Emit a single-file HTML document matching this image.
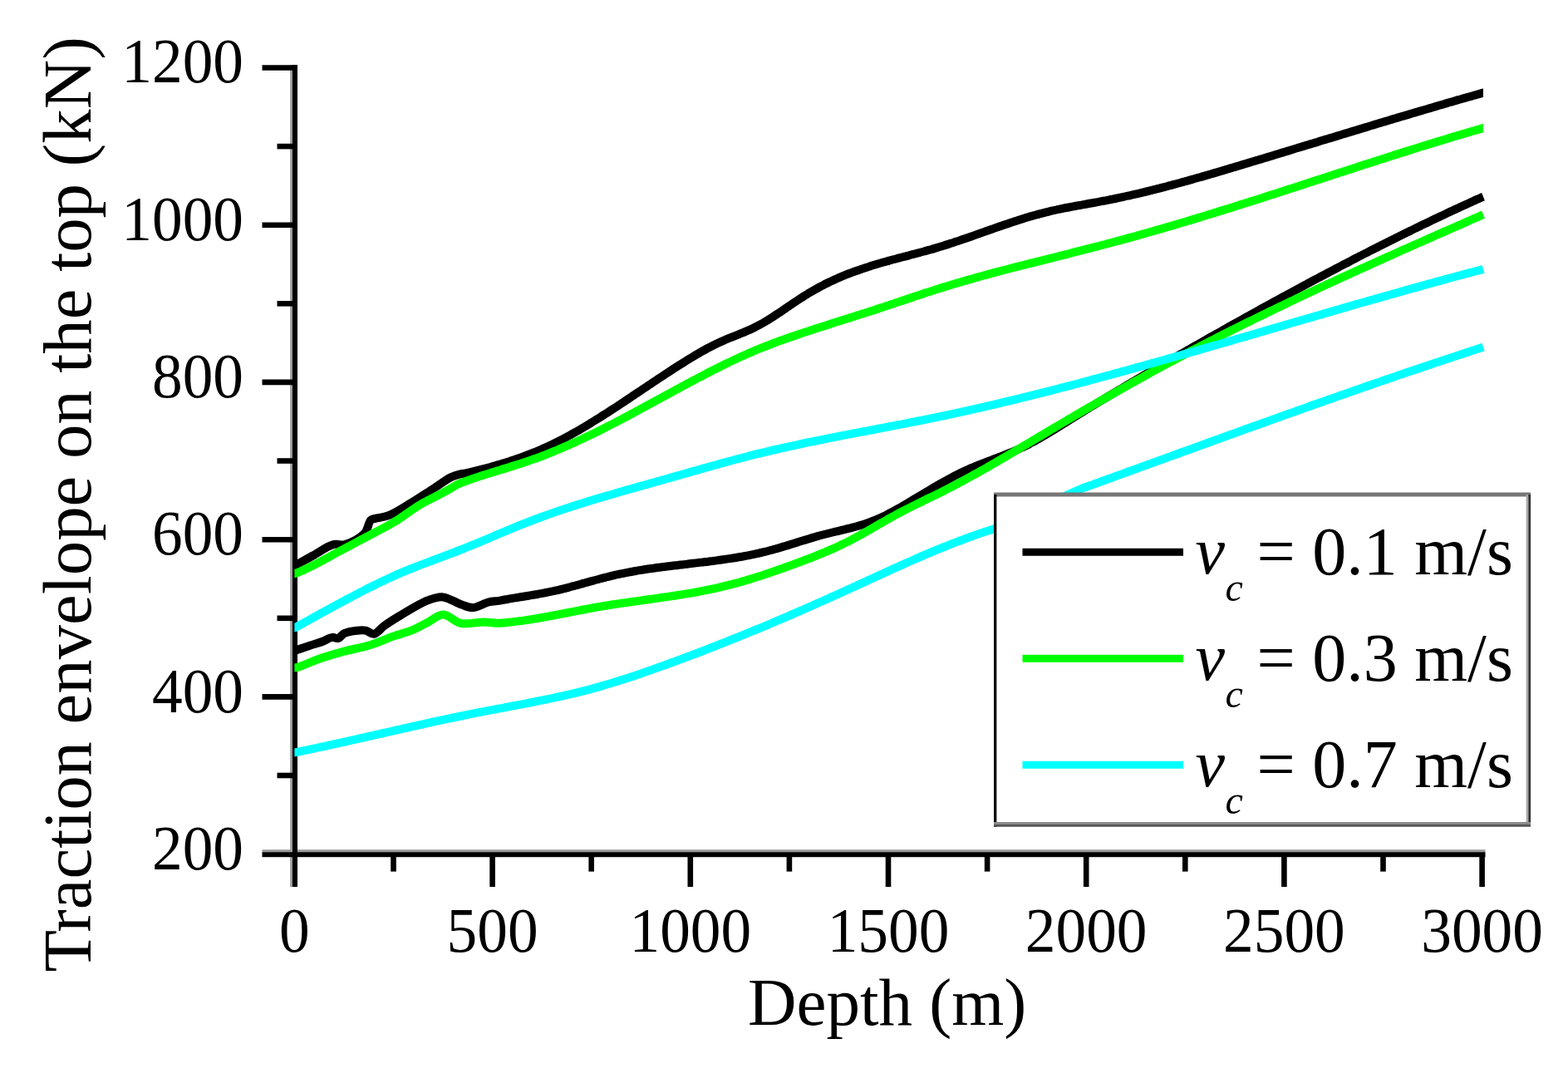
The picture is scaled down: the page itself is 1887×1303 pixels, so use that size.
<!DOCTYPE html>
<html><head><meta charset="utf-8"><title>Traction envelope on the top vs Depth</title>
<style>
html,body{margin:0;padding:0;background:#fff;}
body{width:1887px;height:1303px;overflow:hidden;}
svg{display:block;}
text{font-family:"Liberation Serif","Times New Roman",serif;fill:#000;}
</style></head><body>
<svg width="1887" height="1303" viewBox="0 0 1887 1303">
<rect width="1887" height="1303" fill="#fff"/>

<rect x="349.2" y="78" width="2.9" height="989" fill="#9a9a9a"/>
<rect x="315.5" y="1022.2" width="1472" height="3.1" fill="#9a9a9a"/>
<rect x="352" y="78" width="6" height="989" fill="#000"/>
<rect x="315.5" y="1025.2" width="1472" height="6" fill="#000"/>
<g stroke="#000" stroke-width="6.6" stroke-linecap="butt">
<line x1="333.5" y1="933.0" x2="355.0" y2="933.0"/>
<line x1="315.5" y1="838.4" x2="355.0" y2="838.4"/>
<line x1="333.5" y1="743.8" x2="355.0" y2="743.8"/>
<line x1="315.5" y1="649.2" x2="355.0" y2="649.2"/>
<line x1="333.5" y1="554.5" x2="355.0" y2="554.5"/>
<line x1="315.5" y1="459.9" x2="355.0" y2="459.9"/>
<line x1="333.5" y1="365.3" x2="355.0" y2="365.3"/>
<line x1="315.5" y1="270.7" x2="355.0" y2="270.7"/>
<line x1="333.5" y1="176.1" x2="355.0" y2="176.1"/>
<line x1="315.5" y1="81.5" x2="355.0" y2="81.5"/>
<line x1="473.5" y1="1028.0" x2="473.5" y2="1048.6"/>
<line x1="592.6" y1="1028.0" x2="592.6" y2="1067.0"/>
<line x1="711.7" y1="1028.0" x2="711.7" y2="1048.6"/>
<line x1="830.8" y1="1028.0" x2="830.8" y2="1067.0"/>
<line x1="949.9" y1="1028.0" x2="949.9" y2="1048.6"/>
<line x1="1069.0" y1="1028.0" x2="1069.0" y2="1067.0"/>
<line x1="1188.1" y1="1028.0" x2="1188.1" y2="1048.6"/>
<line x1="1307.2" y1="1028.0" x2="1307.2" y2="1067.0"/>
<line x1="1426.3" y1="1028.0" x2="1426.3" y2="1048.6"/>
<line x1="1545.4" y1="1028.0" x2="1545.4" y2="1067.0"/>
<line x1="1664.5" y1="1028.0" x2="1664.5" y2="1048.6"/>
<line x1="1783.6" y1="1028.0" x2="1783.6" y2="1067.0"/>
</g>
<path d="M354.4,680.3 C354.5,680.3 354.7,680.4 355.0,680.3 C355.7,680.2 356.7,679.6 358.2,678.8 C361.8,676.9 369.9,672.1 376.5,668.5 C384.1,664.3 393.9,656.9 401.2,655.1 C406.3,653.8 410.1,656.4 415.2,655.1 C422.3,653.2 433.6,647.4 438.8,641.7 C443.0,637.1 443.4,628.2 446.3,625.6 C448.0,624.1 449.4,624.5 451.7,623.9 C455.6,622.8 461.9,622.5 467.8,620.2 C475.8,617.1 485.8,610.4 494.7,605.1 C503.7,599.7 513.1,593.3 521.6,587.9 C529.2,583.0 536.8,577.0 543.1,574.0 C547.5,571.9 551.9,570.9 555.0,570.2 C557.0,569.7 558.3,569.8 560.0,569.5 C561.9,569.1 564.0,568.6 566.0,568.1 C568.0,567.6 570.0,567.1 572.0,566.6 C574.0,566.1 576.0,565.6 578.0,565.1 C580.0,564.6 582.0,564.1 584.0,563.6 C586.0,563.1 588.0,562.5 590.0,562.0 C592.0,561.4 594.0,560.9 596.0,560.3 C598.0,559.7 600.0,559.1 602.0,558.5 C604.0,557.9 606.0,557.3 608.0,556.7 C610.0,556.1 612.0,555.4 614.0,554.8 C616.0,554.1 618.0,553.5 620.0,552.8 C622.0,552.1 624.0,551.4 626.0,550.7 C628.0,550.0 630.0,549.3 632.0,548.5 C634.0,547.8 636.0,547.0 638.0,546.2 C640.0,545.4 642.0,544.6 644.0,543.8 C646.0,543.0 648.0,542.1 650.0,541.3 C652.0,540.4 654.0,539.5 656.0,538.6 C658.0,537.7 660.0,536.8 662.0,535.9 C664.0,534.9 666.0,534.0 668.0,533.0 C670.0,532.0 672.0,531.0 674.0,529.9 C676.0,528.9 678.0,527.9 680.0,526.8 C682.0,525.7 684.0,524.6 686.0,523.6 C688.0,522.4 690.0,521.3 692.0,520.2 C694.0,519.1 696.0,517.9 698.0,516.8 C700.0,515.6 702.0,514.4 704.0,513.2 C706.0,512.0 708.0,510.8 710.0,509.6 C712.0,508.4 714.0,507.2 716.0,505.9 C718.0,504.7 720.0,503.4 722.0,502.2 C724.0,500.9 726.0,499.6 728.0,498.4 C730.0,497.1 732.0,495.8 734.0,494.5 C736.0,493.2 738.0,491.9 740.0,490.6 C742.0,489.3 744.0,488.0 746.0,486.6 C748.0,485.3 750.0,484.0 752.0,482.7 C754.0,481.3 756.0,480.0 758.0,478.7 C760.0,477.3 762.0,476.0 764.0,474.6 C766.0,473.3 768.0,472.0 770.0,470.6 C772.0,469.3 774.0,467.9 776.0,466.6 C778.0,465.3 780.0,463.9 782.0,462.6 C784.0,461.3 786.0,459.9 788.0,458.6 C790.0,457.3 792.0,455.9 794.0,454.6 C796.0,453.3 798.0,452.0 800.0,450.6 C802.0,449.3 804.0,448.0 806.0,446.7 C808.0,445.4 810.0,444.1 812.0,442.8 C814.0,441.6 816.0,440.3 818.0,439.0 C820.0,437.8 822.0,436.5 824.0,435.2 C826.0,434.0 828.0,432.8 830.0,431.5 C832.0,430.3 834.0,429.1 836.0,427.9 C838.0,426.7 840.0,425.6 842.0,424.4 C844.0,423.3 846.0,422.1 848.0,421.0 C850.0,419.9 852.0,418.8 854.0,417.8 C856.0,416.7 858.0,415.7 860.0,414.7 C862.0,413.7 864.0,412.8 866.0,411.9 C868.0,410.9 870.0,410.1 872.0,409.2 C874.0,408.4 876.0,407.5 878.0,406.7 C880.0,405.9 882.0,405.1 884.0,404.3 C886.0,403.5 888.0,402.7 890.0,401.9 C892.0,401.1 894.0,400.3 896.0,399.5 C898.0,398.6 900.0,397.8 902.0,396.9 C904.0,396.0 906.0,395.0 908.0,394.0 C910.0,393.0 912.0,392.0 914.0,390.9 C916.0,389.8 918.0,388.7 920.0,387.5 C922.0,386.3 924.0,385.1 926.0,383.9 C928.0,382.6 930.0,381.3 932.0,380.0 C934.0,378.7 936.0,377.4 938.0,376.1 C940.0,374.7 942.0,373.4 944.0,372.0 C946.0,370.7 948.0,369.3 950.0,367.9 C952.0,366.6 954.0,365.2 956.0,363.9 C958.0,362.5 960.0,361.2 962.0,359.9 C964.0,358.6 966.0,357.3 968.0,356.0 C970.0,354.8 972.0,353.5 974.0,352.3 C976.0,351.1 978.0,349.9 980.0,348.8 C982.0,347.7 984.0,346.6 986.0,345.5 C988.0,344.4 990.0,343.4 992.0,342.3 C994.0,341.3 996.0,340.3 998.0,339.4 C1000.0,338.4 1002.0,337.5 1004.0,336.6 C1006.0,335.7 1008.0,334.8 1010.0,333.9 C1012.0,333.1 1014.0,332.2 1016.0,331.4 C1018.0,330.6 1020.0,329.8 1022.0,329.0 C1024.0,328.3 1026.0,327.5 1028.0,326.8 C1030.0,326.1 1032.0,325.4 1034.0,324.7 C1036.0,324.0 1038.0,323.3 1040.0,322.6 C1042.0,322.0 1044.0,321.3 1046.0,320.7 C1048.0,320.0 1050.0,319.4 1052.0,318.8 C1054.0,318.2 1056.0,317.6 1058.0,317.0 C1060.0,316.5 1062.0,315.9 1064.0,315.3 C1066.0,314.7 1068.0,314.2 1070.0,313.6 C1072.0,313.1 1074.0,312.5 1076.0,312.0 C1078.0,311.5 1080.0,310.9 1082.0,310.4 C1084.0,309.9 1086.0,309.4 1088.0,308.8 C1090.0,308.3 1092.0,307.8 1094.0,307.3 C1096.0,306.7 1098.0,306.2 1100.0,305.7 C1102.0,305.1 1104.0,304.6 1106.0,304.1 C1108.0,303.5 1110.0,303.0 1112.0,302.5 C1114.0,301.9 1116.0,301.4 1118.0,300.8 C1120.0,300.2 1122.0,299.7 1124.0,299.1 C1126.0,298.5 1128.0,297.9 1130.0,297.3 C1132.0,296.7 1134.0,296.1 1136.0,295.5 C1138.0,294.8 1140.0,294.2 1142.0,293.6 C1144.0,292.9 1146.0,292.3 1148.0,291.6 C1150.0,290.9 1152.0,290.3 1154.0,289.6 C1156.0,288.9 1158.0,288.2 1160.0,287.5 C1162.0,286.9 1164.0,286.2 1166.0,285.5 C1168.0,284.8 1170.0,284.1 1172.0,283.4 C1174.0,282.7 1176.0,282.0 1178.0,281.2 C1180.0,280.5 1182.0,279.8 1184.0,279.1 C1186.0,278.4 1188.0,277.7 1190.0,277.0 C1192.0,276.3 1194.0,275.6 1196.0,274.9 C1198.0,274.2 1200.0,273.5 1202.0,272.8 C1204.0,272.1 1206.0,271.4 1208.0,270.7 C1210.0,270.0 1212.0,269.4 1214.0,268.7 C1216.0,268.0 1218.0,267.3 1220.0,266.7 C1222.0,266.0 1224.0,265.4 1226.0,264.7 C1228.0,264.1 1230.0,263.5 1232.0,262.9 C1234.0,262.2 1236.0,261.6 1238.0,261.0 C1240.0,260.4 1242.0,259.9 1244.0,259.3 C1246.0,258.7 1248.0,258.2 1250.0,257.6 C1252.0,257.1 1254.0,256.6 1256.0,256.1 C1258.0,255.5 1260.0,255.1 1262.0,254.6 C1264.0,254.1 1266.0,253.6 1268.0,253.2 C1270.0,252.7 1272.0,252.3 1274.0,251.9 C1276.0,251.5 1278.0,251.1 1280.0,250.6 C1282.0,250.2 1284.0,249.9 1286.0,249.5 C1288.0,249.1 1290.0,248.7 1292.0,248.3 C1294.0,247.9 1296.0,247.6 1298.0,247.2 C1300.0,246.9 1302.0,246.5 1304.0,246.1 C1306.0,245.8 1308.0,245.4 1310.0,245.0 C1312.0,244.7 1314.0,244.3 1316.0,244.0 C1318.0,243.6 1320.0,243.2 1322.0,242.9 C1324.0,242.5 1326.0,242.1 1328.0,241.7 C1330.0,241.4 1332.0,241.0 1334.0,240.6 C1336.0,240.2 1338.0,239.8 1340.0,239.4 C1342.0,239.0 1344.0,238.5 1346.0,238.1 C1348.0,237.7 1350.0,237.3 1352.0,236.8 C1354.0,236.4 1356.0,236.0 1358.0,235.5 C1360.0,235.1 1362.0,234.6 1364.0,234.2 C1366.0,233.7 1368.0,233.2 1370.0,232.8 C1372.0,232.3 1374.0,231.8 1376.0,231.3 C1378.0,230.9 1380.0,230.4 1382.0,229.9 C1384.0,229.4 1386.0,228.9 1388.0,228.4 C1390.0,227.9 1392.0,227.4 1394.0,226.9 C1396.0,226.4 1398.0,225.8 1400.0,225.3 C1402.0,224.8 1404.0,224.3 1406.0,223.7 C1408.0,223.2 1410.0,222.7 1412.0,222.1 C1414.0,221.6 1416.0,221.1 1418.0,220.5 C1420.0,220.0 1422.0,219.4 1424.0,218.9 C1426.0,218.3 1428.0,217.8 1430.0,217.2 C1432.0,216.6 1434.0,216.1 1436.0,215.5 C1438.0,215.0 1440.0,214.4 1442.0,213.8 C1444.0,213.2 1446.0,212.7 1448.0,212.1 C1450.0,211.5 1452.0,210.9 1454.0,210.4 C1456.0,209.8 1458.0,209.2 1460.0,208.6 C1462.0,208.0 1464.0,207.4 1466.0,206.9 C1468.0,206.3 1470.0,205.7 1472.0,205.1 C1474.0,204.5 1476.0,203.9 1478.0,203.3 C1480.0,202.7 1482.0,202.1 1484.0,201.5 C1486.0,200.9 1488.0,200.3 1490.0,199.7 C1492.0,199.1 1494.0,198.5 1496.0,197.9 C1498.0,197.3 1500.0,196.7 1502.0,196.1 C1504.0,195.5 1506.0,194.9 1508.0,194.3 C1510.0,193.7 1512.0,193.1 1514.0,192.5 C1516.0,191.9 1518.0,191.3 1520.0,190.7 C1522.0,190.1 1524.0,189.5 1526.0,188.9 C1528.0,188.3 1530.0,187.7 1532.0,187.1 C1534.0,186.4 1536.0,185.8 1538.0,185.2 C1540.0,184.6 1542.0,184.0 1544.0,183.4 C1546.0,182.8 1548.0,182.2 1550.0,181.6 C1552.0,181.0 1554.0,180.4 1556.0,179.8 C1558.0,179.2 1560.0,178.6 1562.0,177.9 C1564.0,177.3 1566.0,176.7 1568.0,176.1 C1570.0,175.5 1572.0,174.9 1574.0,174.3 C1576.0,173.7 1578.0,173.1 1580.0,172.5 C1582.0,171.9 1584.0,171.3 1586.0,170.7 C1588.0,170.0 1590.0,169.4 1592.0,168.8 C1594.0,168.2 1596.0,167.6 1598.0,167.0 C1600.0,166.4 1602.0,165.8 1604.0,165.2 C1606.0,164.6 1608.0,164.0 1610.0,163.4 C1612.0,162.8 1614.0,162.1 1616.0,161.5 C1618.0,160.9 1620.0,160.3 1622.0,159.7 C1624.0,159.1 1626.0,158.5 1628.0,157.9 C1630.0,157.3 1632.0,156.7 1634.0,156.1 C1636.0,155.5 1638.0,154.9 1640.0,154.3 C1642.0,153.7 1644.0,153.1 1646.0,152.5 C1648.0,151.9 1650.0,151.3 1652.0,150.6 C1654.0,150.0 1656.0,149.4 1658.0,148.8 C1660.0,148.2 1662.0,147.6 1664.0,147.0 C1666.0,146.4 1668.0,145.8 1670.0,145.2 C1672.0,144.6 1674.0,144.0 1676.0,143.4 C1678.0,142.8 1680.0,142.2 1682.0,141.6 C1684.0,141.0 1686.0,140.4 1688.0,139.8 C1690.0,139.3 1692.0,138.7 1694.0,138.1 C1696.0,137.5 1698.0,136.9 1700.0,136.3 C1702.0,135.7 1704.0,135.1 1706.0,134.5 C1708.0,133.9 1710.0,133.3 1712.0,132.7 C1714.0,132.1 1716.0,131.5 1718.0,131.0 C1720.0,130.4 1722.0,129.8 1724.0,129.2 C1726.0,128.6 1728.0,128.0 1730.0,127.4 C1732.0,126.8 1734.0,126.3 1736.0,125.7 C1738.0,125.1 1740.0,124.5 1742.0,123.9 C1744.0,123.3 1746.0,122.8 1748.0,122.2 C1750.0,121.6 1752.0,121.0 1754.0,120.4 C1756.0,119.9 1758.0,119.3 1760.0,118.7 C1762.0,118.1 1764.0,117.6 1766.0,117.0 C1768.0,116.4 1770.0,115.8 1772.0,115.3 C1774.0,114.7 1776.0,114.1 1778.0,113.6 C1780.0,113.0 1782.8,112.2 1784.0,111.9 C1784.5,111.7 1784.8,111.6 1785.0,111.6" fill="none" stroke="#000" stroke-width="10.0" stroke-linejoin="round" stroke-linecap="butt"/>
<path d="M354.4,783.0 C354.5,783.0 354.7,783.1 355.0,783.0 C355.6,782.9 356.6,782.2 358.0,781.7 C361.1,780.5 368.4,778.2 373.5,776.5 C378.5,774.9 383.8,773.4 388.4,771.7 C392.4,770.2 396.1,767.3 399.5,766.9 C402.2,766.5 404.6,768.6 407.0,768.0 C409.6,767.3 411.2,763.6 414.3,762.1 C418.2,760.2 424.6,759.2 429.2,758.7 C433.1,758.3 436.8,758.0 440.3,758.7 C443.7,759.4 446.7,763.3 450.0,762.8 C454.1,762.2 457.9,756.2 462.6,752.8 C468.1,748.9 474.0,745.2 481.1,740.9 C490.4,735.3 504.3,726.4 514.0,722.7 C521.0,720.0 526.6,717.9 533.1,718.4 C540.2,719.0 548.4,725.1 555.0,727.3 C560.2,729.0 564.1,731.3 569.1,731.1 C574.9,730.9 582.0,725.9 587.6,724.5 C592.1,723.4 596.6,723.4 600.0,722.9 C602.4,722.5 604.0,722.1 606.0,721.7 C608.0,721.4 610.0,721.0 612.0,720.7 C614.0,720.3 616.0,720.0 618.0,719.6 C620.0,719.3 622.0,719.0 624.0,718.7 C626.0,718.3 628.0,718.0 630.0,717.7 C632.0,717.4 634.0,717.0 636.0,716.7 C638.0,716.4 640.0,716.1 642.0,715.7 C644.0,715.4 646.0,715.0 648.0,714.7 C650.0,714.3 652.0,714.0 654.0,713.6 C656.0,713.2 658.0,712.8 660.0,712.4 C662.0,712.0 664.0,711.6 666.0,711.2 C668.0,710.7 670.0,710.2 672.0,709.8 C674.0,709.3 676.0,708.8 678.0,708.3 C680.0,707.8 682.0,707.3 684.0,706.8 C686.0,706.3 688.0,705.7 690.0,705.2 C692.0,704.6 694.0,704.1 696.0,703.6 C698.0,703.0 700.0,702.5 702.0,701.9 C704.0,701.3 706.0,700.8 708.0,700.2 C710.0,699.7 712.0,699.1 714.0,698.6 C716.0,698.0 718.0,697.5 720.0,697.0 C722.0,696.4 724.0,695.9 726.0,695.4 C728.0,694.9 730.0,694.3 732.0,693.9 C734.0,693.4 736.0,692.9 738.0,692.4 C740.0,691.9 742.0,691.5 744.0,691.0 C746.0,690.6 748.0,690.2 750.0,689.8 C752.0,689.4 754.0,689.0 756.0,688.6 C758.0,688.2 760.0,687.8 762.0,687.5 C764.0,687.1 766.0,686.8 768.0,686.4 C770.0,686.1 772.0,685.8 774.0,685.5 C776.0,685.1 778.0,684.8 780.0,684.5 C782.0,684.2 784.0,683.9 786.0,683.7 C788.0,683.4 790.0,683.1 792.0,682.8 C794.0,682.6 796.0,682.3 798.0,682.1 C800.0,681.8 802.0,681.6 804.0,681.3 C806.0,681.1 808.0,680.8 810.0,680.6 C812.0,680.4 814.0,680.1 816.0,679.9 C818.0,679.7 820.0,679.4 822.0,679.2 C824.0,679.0 826.0,678.7 828.0,678.5 C830.0,678.3 832.0,678.1 834.0,677.8 C836.0,677.6 838.0,677.4 840.0,677.1 C842.0,676.9 844.0,676.7 846.0,676.4 C848.0,676.2 850.0,675.9 852.0,675.7 C854.0,675.4 856.0,675.2 858.0,674.9 C860.0,674.7 862.0,674.4 864.0,674.1 C866.0,673.9 868.0,673.6 870.0,673.3 C872.0,673.0 874.0,672.7 876.0,672.4 C878.0,672.1 880.0,671.8 882.0,671.5 C884.0,671.2 886.0,670.9 888.0,670.5 C890.0,670.2 892.0,669.8 894.0,669.5 C896.0,669.1 898.0,668.7 900.0,668.3 C902.0,667.9 904.0,667.5 906.0,667.1 C908.0,666.7 910.0,666.3 912.0,665.8 C914.0,665.4 916.0,664.9 918.0,664.4 C920.0,664.0 922.0,663.5 924.0,663.0 C926.0,662.4 928.0,661.9 930.0,661.4 C932.0,660.8 934.0,660.3 936.0,659.7 C938.0,659.1 940.0,658.5 942.0,657.9 C944.0,657.3 946.0,656.7 948.0,656.1 C950.0,655.5 952.0,654.9 954.0,654.2 C956.0,653.6 958.0,653.0 960.0,652.4 C962.0,651.7 964.0,651.1 966.0,650.5 C968.0,649.9 970.0,649.3 972.0,648.7 C974.0,648.1 976.0,647.5 978.0,646.9 C980.0,646.3 982.0,645.7 984.0,645.1 C986.0,644.6 988.0,644.0 990.0,643.5 C992.0,643.0 994.0,642.5 996.0,642.0 C998.0,641.5 1000.0,641.0 1002.0,640.5 C1004.0,640.0 1006.0,639.5 1008.0,639.1 C1010.0,638.6 1012.0,638.1 1014.0,637.6 C1016.0,637.2 1018.0,636.7 1020.0,636.2 C1022.0,635.7 1024.0,635.2 1026.0,634.6 C1028.0,634.1 1030.0,633.6 1032.0,633.0 C1034.0,632.4 1036.0,631.8 1038.0,631.2 C1040.0,630.6 1042.0,629.9 1044.0,629.2 C1046.0,628.5 1048.0,627.8 1050.0,627.0 C1052.0,626.2 1054.0,625.4 1056.0,624.5 C1058.0,623.7 1060.0,622.7 1062.0,621.8 C1064.0,620.9 1066.0,619.9 1068.0,618.9 C1070.0,617.8 1072.0,616.8 1074.0,615.7 C1076.0,614.7 1078.0,613.6 1080.0,612.4 C1082.0,611.3 1084.0,610.2 1086.0,609.0 C1088.0,607.9 1090.0,606.7 1092.0,605.5 C1094.0,604.3 1096.0,603.1 1098.0,601.9 C1100.0,600.7 1102.0,599.5 1104.0,598.3 C1106.0,597.1 1108.0,595.9 1110.0,594.7 C1112.0,593.5 1114.0,592.3 1116.0,591.2 C1118.0,590.0 1120.0,588.8 1122.0,587.6 C1124.0,586.4 1126.0,585.3 1128.0,584.1 C1130.0,582.9 1132.0,581.8 1134.0,580.7 C1136.0,579.5 1138.0,578.4 1140.0,577.3 C1142.0,576.2 1144.0,575.2 1146.0,574.1 C1148.0,573.0 1150.0,572.0 1152.0,571.0 C1154.0,570.0 1156.0,569.0 1158.0,568.0 C1160.0,567.1 1162.0,566.2 1164.0,565.3 C1166.0,564.4 1168.0,563.5 1170.0,562.7 C1172.0,561.8 1174.0,561.0 1176.0,560.2 C1178.0,559.4 1180.0,558.6 1182.0,557.8 C1184.0,557.0 1186.0,556.2 1188.0,555.5 C1190.0,554.7 1192.0,553.9 1194.0,553.2 C1196.0,552.4 1198.0,551.7 1200.0,550.9 C1202.0,550.1 1204.0,549.4 1206.0,548.6 C1208.0,547.8 1210.0,547.0 1212.0,546.2 C1214.0,545.4 1216.0,544.6 1218.0,543.8 C1220.0,542.9 1222.0,542.1 1224.0,541.2 C1226.0,540.3 1228.0,539.4 1230.0,538.4 C1232.0,537.5 1234.0,536.5 1236.0,535.5 C1238.0,534.5 1240.0,533.4 1242.0,532.4 C1244.0,531.3 1246.0,530.2 1248.0,529.1 C1250.0,528.0 1252.0,526.8 1254.0,525.7 C1256.0,524.5 1258.0,523.3 1260.0,522.2 C1262.0,521.0 1264.0,519.8 1266.0,518.5 C1268.0,517.3 1270.0,516.1 1272.0,514.9 C1274.0,513.6 1276.0,512.4 1278.0,511.1 C1280.0,509.9 1282.0,508.6 1284.0,507.4 C1286.0,506.1 1288.0,504.9 1290.0,503.6 C1292.0,502.4 1294.0,501.1 1296.0,499.9 C1298.0,498.6 1300.0,497.4 1302.0,496.2 C1304.0,494.9 1306.0,493.7 1308.0,492.5 C1310.0,491.2 1312.0,490.0 1314.0,488.8 C1316.0,487.6 1318.0,486.4 1320.0,485.1 C1322.0,483.9 1324.0,482.7 1326.0,481.5 C1328.0,480.3 1330.0,479.1 1332.0,477.9 C1334.0,476.7 1336.0,475.5 1338.0,474.3 C1340.0,473.1 1342.0,471.9 1344.0,470.7 C1346.0,469.5 1348.0,468.4 1350.0,467.2 C1352.0,466.0 1354.0,464.8 1356.0,463.6 C1358.0,462.5 1360.0,461.3 1362.0,460.1 C1364.0,458.9 1366.0,457.8 1368.0,456.6 C1370.0,455.4 1372.0,454.3 1374.0,453.1 C1376.0,451.9 1378.0,450.8 1380.0,449.6 C1382.0,448.4 1384.0,447.3 1386.0,446.1 C1388.0,445.0 1390.0,443.8 1392.0,442.7 C1394.0,441.5 1396.0,440.4 1398.0,439.2 C1400.0,438.1 1402.0,436.9 1404.0,435.8 C1406.0,434.6 1408.0,433.5 1410.0,432.3 C1412.0,431.2 1414.0,430.0 1416.0,428.9 C1418.0,427.7 1420.0,426.6 1422.0,425.5 C1424.0,424.3 1426.0,423.2 1428.0,422.0 C1430.0,420.9 1432.0,419.8 1434.0,418.6 C1436.0,417.5 1438.0,416.3 1440.0,415.2 C1442.0,414.1 1444.0,412.9 1446.0,411.8 C1448.0,410.7 1450.0,409.5 1452.0,408.4 C1454.0,407.3 1456.0,406.1 1458.0,405.0 C1460.0,403.9 1462.0,402.8 1464.0,401.6 C1466.0,400.5 1468.0,399.4 1470.0,398.3 C1472.0,397.1 1474.0,396.0 1476.0,394.9 C1478.0,393.8 1480.0,392.6 1482.0,391.5 C1484.0,390.4 1486.0,389.3 1488.0,388.2 C1490.0,387.0 1492.0,385.9 1494.0,384.8 C1496.0,383.7 1498.0,382.6 1500.0,381.5 C1502.0,380.4 1504.0,379.3 1506.0,378.1 C1508.0,377.0 1510.0,375.9 1512.0,374.8 C1514.0,373.7 1516.0,372.6 1518.0,371.5 C1520.0,370.4 1522.0,369.3 1524.0,368.2 C1526.0,367.1 1528.0,366.0 1530.0,364.9 C1532.0,363.8 1534.0,362.7 1536.0,361.6 C1538.0,360.5 1540.0,359.4 1542.0,358.3 C1544.0,357.3 1546.0,356.2 1548.0,355.1 C1550.0,354.0 1552.0,352.9 1554.0,351.8 C1556.0,350.7 1558.0,349.7 1560.0,348.6 C1562.0,347.5 1564.0,346.4 1566.0,345.3 C1568.0,344.3 1570.0,343.2 1572.0,342.1 C1574.0,341.1 1576.0,340.0 1578.0,338.9 C1580.0,337.8 1582.0,336.8 1584.0,335.7 C1586.0,334.6 1588.0,333.6 1590.0,332.5 C1592.0,331.5 1594.0,330.4 1596.0,329.3 C1598.0,328.3 1600.0,327.2 1602.0,326.2 C1604.0,325.1 1606.0,324.1 1608.0,323.0 C1610.0,322.0 1612.0,320.9 1614.0,319.9 C1616.0,318.8 1618.0,317.8 1620.0,316.8 C1622.0,315.7 1624.0,314.7 1626.0,313.6 C1628.0,312.6 1630.0,311.6 1632.0,310.5 C1634.0,309.5 1636.0,308.5 1638.0,307.4 C1640.0,306.4 1642.0,305.4 1644.0,304.4 C1646.0,303.4 1648.0,302.3 1650.0,301.3 C1652.0,300.3 1654.0,299.3 1656.0,298.3 C1658.0,297.3 1660.0,296.2 1662.0,295.2 C1664.0,294.2 1666.0,293.2 1668.0,292.2 C1670.0,291.2 1672.0,290.2 1674.0,289.2 C1676.0,288.2 1678.0,287.2 1680.0,286.2 C1682.0,285.2 1684.0,284.2 1686.0,283.3 C1688.0,282.3 1690.0,281.3 1692.0,280.3 C1694.0,279.3 1696.0,278.3 1698.0,277.4 C1700.0,276.4 1702.0,275.4 1704.0,274.4 C1706.0,273.5 1708.0,272.5 1710.0,271.5 C1712.0,270.5 1714.0,269.6 1716.0,268.6 C1718.0,267.7 1720.0,266.7 1722.0,265.7 C1724.0,264.8 1726.0,263.8 1728.0,262.9 C1730.0,261.9 1732.0,261.0 1734.0,260.0 C1736.0,259.1 1738.0,258.2 1740.0,257.2 C1742.0,256.3 1744.0,255.3 1746.0,254.4 C1748.0,253.5 1750.0,252.5 1752.0,251.6 C1754.0,250.7 1756.0,249.8 1758.0,248.8 C1760.0,247.9 1762.0,247.0 1764.0,246.1 C1766.0,245.2 1768.0,244.3 1770.0,243.4 C1772.0,242.5 1774.0,241.5 1776.0,240.6 C1778.0,239.7 1780.3,238.7 1782.0,237.9 C1783.2,237.4 1784.5,236.8 1785.0,236.6" fill="none" stroke="#000" stroke-width="10.0" stroke-linejoin="round" stroke-linecap="butt"/>
<path d="M354.4,689.9 C354.5,689.9 354.7,690.0 355.0,689.9 C357.1,689.5 368.7,684.2 376.5,680.4 C386.2,675.7 398.0,668.9 408.7,663.2 C419.5,657.5 430.2,651.7 441.0,646.0 C451.7,640.3 462.6,635.1 473.2,628.8 C484.1,622.3 495.7,613.1 505.5,607.3 C513.3,602.7 520.7,599.4 527.0,596.0 C532.0,593.3 536.0,591.2 540.3,588.8 C544.3,586.6 548.3,583.9 551.9,582.2 C554.8,580.8 557.5,580.0 560.0,579.1 C562.1,578.3 564.0,577.7 566.0,577.0 C568.0,576.3 570.0,575.6 572.0,574.9 C574.0,574.3 576.0,573.6 578.0,572.9 C580.0,572.3 582.0,571.7 584.0,571.0 C586.0,570.4 588.0,569.8 590.0,569.1 C592.0,568.5 594.0,567.9 596.0,567.3 C598.0,566.7 600.0,566.1 602.0,565.5 C604.0,564.8 606.0,564.2 608.0,563.6 C610.0,563.0 612.0,562.4 614.0,561.8 C616.0,561.1 618.0,560.5 620.0,559.9 C622.0,559.2 624.0,558.6 626.0,558.0 C628.0,557.3 630.0,556.6 632.0,556.0 C634.0,555.3 636.0,554.6 638.0,553.9 C640.0,553.2 642.0,552.5 644.0,551.8 C646.0,551.1 648.0,550.3 650.0,549.6 C652.0,548.8 654.0,548.1 656.0,547.3 C658.0,546.5 660.0,545.7 662.0,544.9 C664.0,544.1 666.0,543.3 668.0,542.5 C670.0,541.7 672.0,540.8 674.0,540.0 C676.0,539.1 678.0,538.3 680.0,537.4 C682.0,536.5 684.0,535.6 686.0,534.8 C688.0,533.9 690.0,533.0 692.0,532.1 C694.0,531.1 696.0,530.2 698.0,529.3 C700.0,528.4 702.0,527.4 704.0,526.5 C706.0,525.5 708.0,524.6 710.0,523.6 C712.0,522.6 714.0,521.6 716.0,520.7 C718.0,519.7 720.0,518.7 722.0,517.7 C724.0,516.7 726.0,515.7 728.0,514.7 C730.0,513.7 732.0,512.7 734.0,511.6 C736.0,510.6 738.0,509.6 740.0,508.6 C742.0,507.5 744.0,506.5 746.0,505.4 C748.0,504.4 750.0,503.3 752.0,502.3 C754.0,501.2 756.0,500.2 758.0,499.1 C760.0,498.0 762.0,497.0 764.0,495.9 C766.0,494.8 768.0,493.8 770.0,492.7 C772.0,491.6 774.0,490.5 776.0,489.4 C778.0,488.4 780.0,487.3 782.0,486.2 C784.0,485.1 786.0,484.0 788.0,482.9 C790.0,481.8 792.0,480.7 794.0,479.7 C796.0,478.6 798.0,477.5 800.0,476.4 C802.0,475.3 804.0,474.2 806.0,473.1 C808.0,472.0 810.0,470.9 812.0,469.8 C814.0,468.8 816.0,467.7 818.0,466.6 C820.0,465.5 822.0,464.4 824.0,463.4 C826.0,462.3 828.0,461.2 830.0,460.1 C832.0,459.1 834.0,458.0 836.0,456.9 C838.0,455.9 840.0,454.8 842.0,453.8 C844.0,452.7 846.0,451.7 848.0,450.6 C850.0,449.6 852.0,448.6 854.0,447.5 C856.0,446.5 858.0,445.5 860.0,444.5 C862.0,443.5 864.0,442.5 866.0,441.5 C868.0,440.5 870.0,439.5 872.0,438.5 C874.0,437.5 876.0,436.6 878.0,435.6 C880.0,434.6 882.0,433.7 884.0,432.8 C886.0,431.8 888.0,430.9 890.0,430.0 C892.0,429.1 894.0,428.1 896.0,427.3 C898.0,426.4 900.0,425.5 902.0,424.6 C904.0,423.7 906.0,422.9 908.0,422.0 C910.0,421.2 912.0,420.4 914.0,419.5 C916.0,418.7 918.0,417.9 920.0,417.1 C922.0,416.3 924.0,415.6 926.0,414.8 C928.0,414.0 930.0,413.3 932.0,412.5 C934.0,411.8 936.0,411.0 938.0,410.3 C940.0,409.6 942.0,408.9 944.0,408.2 C946.0,407.4 948.0,406.7 950.0,406.0 C952.0,405.3 954.0,404.7 956.0,404.0 C958.0,403.3 960.0,402.6 962.0,401.9 C964.0,401.3 966.0,400.6 968.0,399.9 C970.0,399.3 972.0,398.6 974.0,398.0 C976.0,397.3 978.0,396.7 980.0,396.0 C982.0,395.4 984.0,394.7 986.0,394.1 C988.0,393.4 990.0,392.8 992.0,392.2 C994.0,391.5 996.0,390.9 998.0,390.2 C1000.0,389.6 1002.0,389.0 1004.0,388.3 C1006.0,387.7 1008.0,387.1 1010.0,386.4 C1012.0,385.8 1014.0,385.2 1016.0,384.5 C1018.0,383.9 1020.0,383.3 1022.0,382.6 C1024.0,382.0 1026.0,381.4 1028.0,380.7 C1030.0,380.1 1032.0,379.5 1034.0,378.8 C1036.0,378.2 1038.0,377.6 1040.0,376.9 C1042.0,376.3 1044.0,375.6 1046.0,375.0 C1048.0,374.4 1050.0,373.7 1052.0,373.1 C1054.0,372.4 1056.0,371.7 1058.0,371.1 C1060.0,370.4 1062.0,369.8 1064.0,369.1 C1066.0,368.4 1068.0,367.8 1070.0,367.1 C1072.0,366.4 1074.0,365.8 1076.0,365.1 C1078.0,364.4 1080.0,363.8 1082.0,363.1 C1084.0,362.4 1086.0,361.7 1088.0,361.1 C1090.0,360.4 1092.0,359.7 1094.0,359.1 C1096.0,358.4 1098.0,357.7 1100.0,357.0 C1102.0,356.4 1104.0,355.7 1106.0,355.1 C1108.0,354.4 1110.0,353.7 1112.0,353.1 C1114.0,352.4 1116.0,351.8 1118.0,351.1 C1120.0,350.5 1122.0,349.8 1124.0,349.2 C1126.0,348.5 1128.0,347.9 1130.0,347.3 C1132.0,346.6 1134.0,346.0 1136.0,345.4 C1138.0,344.8 1140.0,344.2 1142.0,343.6 C1144.0,342.9 1146.0,342.3 1148.0,341.7 C1150.0,341.1 1152.0,340.6 1154.0,340.0 C1156.0,339.4 1158.0,338.8 1160.0,338.2 C1162.0,337.6 1164.0,337.1 1166.0,336.5 C1168.0,335.9 1170.0,335.3 1172.0,334.8 C1174.0,334.2 1176.0,333.7 1178.0,333.1 C1180.0,332.6 1182.0,332.0 1184.0,331.5 C1186.0,330.9 1188.0,330.4 1190.0,329.8 C1192.0,329.3 1194.0,328.7 1196.0,328.2 C1198.0,327.7 1200.0,327.1 1202.0,326.6 C1204.0,326.1 1206.0,325.5 1208.0,325.0 C1210.0,324.5 1212.0,324.0 1214.0,323.5 C1216.0,322.9 1218.0,322.4 1220.0,321.9 C1222.0,321.4 1224.0,320.9 1226.0,320.4 C1228.0,319.8 1230.0,319.3 1232.0,318.8 C1234.0,318.3 1236.0,317.8 1238.0,317.3 C1240.0,316.8 1242.0,316.3 1244.0,315.8 C1246.0,315.3 1248.0,314.8 1250.0,314.3 C1252.0,313.8 1254.0,313.3 1256.0,312.8 C1258.0,312.3 1260.0,311.8 1262.0,311.3 C1264.0,310.8 1266.0,310.3 1268.0,309.8 C1270.0,309.3 1272.0,308.8 1274.0,308.3 C1276.0,307.8 1278.0,307.3 1280.0,306.8 C1282.0,306.3 1284.0,305.8 1286.0,305.3 C1288.0,304.8 1290.0,304.2 1292.0,303.7 C1294.0,303.2 1296.0,302.7 1298.0,302.2 C1300.0,301.7 1302.0,301.2 1304.0,300.7 C1306.0,300.2 1308.0,299.7 1310.0,299.2 C1312.0,298.7 1314.0,298.1 1316.0,297.6 C1318.0,297.1 1320.0,296.6 1322.0,296.1 C1324.0,295.6 1326.0,295.0 1328.0,294.5 C1330.0,294.0 1332.0,293.4 1334.0,292.9 C1336.0,292.4 1338.0,291.9 1340.0,291.3 C1342.0,290.8 1344.0,290.2 1346.0,289.7 C1348.0,289.2 1350.0,288.6 1352.0,288.1 C1354.0,287.5 1356.0,287.0 1358.0,286.4 C1360.0,285.9 1362.0,285.3 1364.0,284.8 C1366.0,284.2 1368.0,283.7 1370.0,283.1 C1372.0,282.5 1374.0,282.0 1376.0,281.4 C1378.0,280.9 1380.0,280.3 1382.0,279.7 C1384.0,279.2 1386.0,278.6 1388.0,278.0 C1390.0,277.4 1392.0,276.9 1394.0,276.3 C1396.0,275.7 1398.0,275.1 1400.0,274.6 C1402.0,274.0 1404.0,273.4 1406.0,272.8 C1408.0,272.2 1410.0,271.6 1412.0,271.1 C1414.0,270.5 1416.0,269.9 1418.0,269.3 C1420.0,268.7 1422.0,268.1 1424.0,267.5 C1426.0,266.9 1428.0,266.3 1430.0,265.7 C1432.0,265.1 1434.0,264.5 1436.0,263.9 C1438.0,263.3 1440.0,262.7 1442.0,262.1 C1444.0,261.5 1446.0,260.9 1448.0,260.3 C1450.0,259.7 1452.0,259.1 1454.0,258.4 C1456.0,257.8 1458.0,257.2 1460.0,256.6 C1462.0,256.0 1464.0,255.4 1466.0,254.8 C1468.0,254.1 1470.0,253.5 1472.0,252.9 C1474.0,252.3 1476.0,251.7 1478.0,251.0 C1480.0,250.4 1482.0,249.8 1484.0,249.2 C1486.0,248.5 1488.0,247.9 1490.0,247.3 C1492.0,246.6 1494.0,246.0 1496.0,245.4 C1498.0,244.7 1500.0,244.1 1502.0,243.5 C1504.0,242.8 1506.0,242.2 1508.0,241.6 C1510.0,240.9 1512.0,240.3 1514.0,239.7 C1516.0,239.0 1518.0,238.4 1520.0,237.7 C1522.0,237.1 1524.0,236.5 1526.0,235.8 C1528.0,235.2 1530.0,234.5 1532.0,233.9 C1534.0,233.3 1536.0,232.6 1538.0,232.0 C1540.0,231.3 1542.0,230.7 1544.0,230.0 C1546.0,229.4 1548.0,228.7 1550.0,228.1 C1552.0,227.4 1554.0,226.8 1556.0,226.1 C1558.0,225.5 1560.0,224.8 1562.0,224.2 C1564.0,223.5 1566.0,222.9 1568.0,222.2 C1570.0,221.6 1572.0,220.9 1574.0,220.3 C1576.0,219.6 1578.0,219.0 1580.0,218.3 C1582.0,217.7 1584.0,217.0 1586.0,216.4 C1588.0,215.7 1590.0,215.1 1592.0,214.4 C1594.0,213.8 1596.0,213.1 1598.0,212.5 C1600.0,211.8 1602.0,211.2 1604.0,210.5 C1606.0,209.9 1608.0,209.2 1610.0,208.6 C1612.0,207.9 1614.0,207.3 1616.0,206.6 C1618.0,206.0 1620.0,205.3 1622.0,204.7 C1624.0,204.0 1626.0,203.4 1628.0,202.7 C1630.0,202.1 1632.0,201.4 1634.0,200.8 C1636.0,200.1 1638.0,199.5 1640.0,198.8 C1642.0,198.2 1644.0,197.5 1646.0,196.9 C1648.0,196.3 1650.0,195.6 1652.0,195.0 C1654.0,194.3 1656.0,193.7 1658.0,193.0 C1660.0,192.4 1662.0,191.8 1664.0,191.1 C1666.0,190.5 1668.0,189.8 1670.0,189.2 C1672.0,188.6 1674.0,187.9 1676.0,187.3 C1678.0,186.6 1680.0,186.0 1682.0,185.4 C1684.0,184.7 1686.0,184.1 1688.0,183.5 C1690.0,182.8 1692.0,182.2 1694.0,181.6 C1696.0,180.9 1698.0,180.3 1700.0,179.7 C1702.0,179.1 1704.0,178.4 1706.0,177.8 C1708.0,177.2 1710.0,176.6 1712.0,175.9 C1714.0,175.3 1716.0,174.7 1718.0,174.1 C1720.0,173.5 1722.0,172.8 1724.0,172.2 C1726.0,171.6 1728.0,171.0 1730.0,170.4 C1732.0,169.8 1734.0,169.2 1736.0,168.6 C1738.0,168.0 1740.0,167.3 1742.0,166.7 C1744.0,166.1 1746.0,165.5 1748.0,164.9 C1750.0,164.3 1752.0,163.7 1754.0,163.1 C1756.0,162.5 1758.0,161.9 1760.0,161.4 C1762.0,160.8 1764.0,160.2 1766.0,159.6 C1768.0,159.0 1770.0,158.4 1772.0,157.8 C1774.0,157.2 1776.0,156.7 1778.0,156.1 C1780.0,155.5 1782.8,154.7 1784.0,154.4 C1784.5,154.2 1784.8,154.1 1785.0,154.1" fill="none" stroke="#00ff00" stroke-width="10.0" stroke-linejoin="round" stroke-linecap="butt"/>
<path d="M354.4,803.3 C354.5,803.3 354.7,803.3 355.0,803.3 C355.6,803.3 356.5,803.3 358.0,802.9 C362.5,801.7 375.5,795.7 384.7,792.5 C394.2,789.2 404.4,786.3 414.3,783.6 C424.2,780.9 434.2,779.5 444.0,776.5 C454.0,773.5 464.6,768.6 473.7,765.4 C481.4,762.7 488.2,761.3 495.0,758.6 C501.6,755.9 507.7,752.4 514.0,749.2 C520.4,746.0 526.5,739.7 533.1,739.6 C540.1,739.5 547.1,748.5 555.0,750.0 C563.4,751.6 574.1,748.3 582.2,748.4 C588.8,748.5 595.6,749.8 600.0,749.8 C602.5,749.8 604.0,749.5 606.0,749.4 C608.0,749.2 610.0,749.0 612.0,748.8 C614.0,748.6 616.0,748.4 618.0,748.1 C620.0,747.9 622.0,747.7 624.0,747.4 C626.0,747.1 628.0,746.9 630.0,746.6 C632.0,746.3 634.0,746.0 636.0,745.7 C638.0,745.4 640.0,745.1 642.0,744.7 C644.0,744.4 646.0,744.1 648.0,743.7 C650.0,743.4 652.0,743.0 654.0,742.7 C656.0,742.3 658.0,741.9 660.0,741.6 C662.0,741.2 664.0,740.8 666.0,740.5 C668.0,740.1 670.0,739.7 672.0,739.3 C674.0,738.9 676.0,738.5 678.0,738.1 C680.0,737.8 682.0,737.4 684.0,737.0 C686.0,736.6 688.0,736.2 690.0,735.8 C692.0,735.4 694.0,735.0 696.0,734.6 C698.0,734.3 700.0,733.9 702.0,733.5 C704.0,733.1 706.0,732.8 708.0,732.4 C710.0,732.0 712.0,731.6 714.0,731.3 C716.0,730.9 718.0,730.6 720.0,730.2 C722.0,729.9 724.0,729.6 726.0,729.2 C728.0,728.9 730.0,728.6 732.0,728.3 C734.0,727.9 736.0,727.6 738.0,727.3 C740.0,727.0 742.0,726.7 744.0,726.4 C746.0,726.1 748.0,725.8 750.0,725.5 C752.0,725.2 754.0,725.0 756.0,724.7 C758.0,724.4 760.0,724.1 762.0,723.8 C764.0,723.5 766.0,723.3 768.0,723.0 C770.0,722.7 772.0,722.4 774.0,722.1 C776.0,721.9 778.0,721.6 780.0,721.3 C782.0,721.0 784.0,720.7 786.0,720.5 C788.0,720.2 790.0,719.9 792.0,719.6 C794.0,719.3 796.0,719.0 798.0,718.8 C800.0,718.5 802.0,718.2 804.0,717.9 C806.0,717.6 808.0,717.3 810.0,717.0 C812.0,716.7 814.0,716.4 816.0,716.0 C818.0,715.7 820.0,715.4 822.0,715.1 C824.0,714.8 826.0,714.4 828.0,714.1 C830.0,713.8 832.0,713.4 834.0,713.1 C836.0,712.7 838.0,712.3 840.0,712.0 C842.0,711.6 844.0,711.2 846.0,710.8 C848.0,710.4 850.0,710.1 852.0,709.6 C854.0,709.2 856.0,708.8 858.0,708.4 C860.0,708.0 862.0,707.5 864.0,707.1 C866.0,706.6 868.0,706.2 870.0,705.7 C872.0,705.2 874.0,704.7 876.0,704.2 C878.0,703.7 880.0,703.2 882.0,702.7 C884.0,702.2 886.0,701.6 888.0,701.1 C890.0,700.5 892.0,700.0 894.0,699.4 C896.0,698.8 898.0,698.2 900.0,697.6 C902.0,697.0 904.0,696.4 906.0,695.8 C908.0,695.2 910.0,694.6 912.0,693.9 C914.0,693.3 916.0,692.6 918.0,692.0 C920.0,691.3 922.0,690.6 924.0,690.0 C926.0,689.3 928.0,688.6 930.0,687.9 C932.0,687.2 934.0,686.5 936.0,685.8 C938.0,685.1 940.0,684.4 942.0,683.7 C944.0,683.0 946.0,682.3 948.0,681.5 C950.0,680.8 952.0,680.1 954.0,679.4 C956.0,678.6 958.0,677.9 960.0,677.1 C962.0,676.4 964.0,675.6 966.0,674.9 C968.0,674.1 970.0,673.4 972.0,672.6 C974.0,671.9 976.0,671.1 978.0,670.3 C980.0,669.5 982.0,668.7 984.0,667.9 C986.0,667.1 988.0,666.3 990.0,665.5 C992.0,664.7 994.0,663.8 996.0,663.0 C998.0,662.1 1000.0,661.3 1002.0,660.4 C1004.0,659.5 1006.0,658.6 1008.0,657.7 C1010.0,656.7 1012.0,655.8 1014.0,654.8 C1016.0,653.9 1018.0,652.9 1020.0,651.9 C1022.0,650.9 1024.0,649.8 1026.0,648.8 C1028.0,647.7 1030.0,646.6 1032.0,645.5 C1034.0,644.5 1036.0,643.3 1038.0,642.2 C1040.0,641.1 1042.0,640.0 1044.0,638.8 C1046.0,637.7 1048.0,636.5 1050.0,635.4 C1052.0,634.2 1054.0,633.1 1056.0,631.9 C1058.0,630.8 1060.0,629.6 1062.0,628.5 C1064.0,627.3 1066.0,626.2 1068.0,625.0 C1070.0,623.9 1072.0,622.8 1074.0,621.7 C1076.0,620.5 1078.0,619.4 1080.0,618.4 C1082.0,617.3 1084.0,616.2 1086.0,615.2 C1088.0,614.1 1090.0,613.1 1092.0,612.1 C1094.0,611.1 1096.0,610.1 1098.0,609.1 C1100.0,608.1 1102.0,607.1 1104.0,606.1 C1106.0,605.1 1108.0,604.2 1110.0,603.2 C1112.0,602.2 1114.0,601.3 1116.0,600.3 C1118.0,599.3 1120.0,598.4 1122.0,597.4 C1124.0,596.4 1126.0,595.4 1128.0,594.5 C1130.0,593.5 1132.0,592.5 1134.0,591.5 C1136.0,590.5 1138.0,589.4 1140.0,588.4 C1142.0,587.4 1144.0,586.4 1146.0,585.3 C1148.0,584.3 1150.0,583.2 1152.0,582.2 C1154.0,581.1 1156.0,580.0 1158.0,579.0 C1160.0,577.9 1162.0,576.8 1164.0,575.7 C1166.0,574.6 1168.0,573.5 1170.0,572.4 C1172.0,571.3 1174.0,570.2 1176.0,569.1 C1178.0,568.0 1180.0,566.8 1182.0,565.7 C1184.0,564.6 1186.0,563.4 1188.0,562.3 C1190.0,561.1 1192.0,560.0 1194.0,558.8 C1196.0,557.7 1198.0,556.5 1200.0,555.4 C1202.0,554.2 1204.0,553.1 1206.0,551.9 C1208.0,550.7 1210.0,549.5 1212.0,548.4 C1214.0,547.2 1216.0,546.0 1218.0,544.8 C1220.0,543.7 1222.0,542.5 1224.0,541.3 C1226.0,540.1 1228.0,538.9 1230.0,537.7 C1232.0,536.5 1234.0,535.4 1236.0,534.2 C1238.0,533.0 1240.0,531.8 1242.0,530.6 C1244.0,529.4 1246.0,528.2 1248.0,527.0 C1250.0,525.8 1252.0,524.6 1254.0,523.5 C1256.0,522.3 1258.0,521.1 1260.0,519.9 C1262.0,518.7 1264.0,517.5 1266.0,516.3 C1268.0,515.1 1270.0,514.0 1272.0,512.8 C1274.0,511.6 1276.0,510.4 1278.0,509.2 C1280.0,508.1 1282.0,506.9 1284.0,505.7 C1286.0,504.5 1288.0,503.4 1290.0,502.2 C1292.0,501.0 1294.0,499.8 1296.0,498.7 C1298.0,497.5 1300.0,496.3 1302.0,495.2 C1304.0,494.0 1306.0,492.9 1308.0,491.7 C1310.0,490.5 1312.0,489.4 1314.0,488.2 C1316.0,487.1 1318.0,485.9 1320.0,484.8 C1322.0,483.6 1324.0,482.5 1326.0,481.3 C1328.0,480.2 1330.0,479.0 1332.0,477.9 C1334.0,476.7 1336.0,475.6 1338.0,474.5 C1340.0,473.3 1342.0,472.2 1344.0,471.1 C1346.0,469.9 1348.0,468.8 1350.0,467.7 C1352.0,466.5 1354.0,465.4 1356.0,464.3 C1358.0,463.2 1360.0,462.1 1362.0,460.9 C1364.0,459.8 1366.0,458.7 1368.0,457.6 C1370.0,456.5 1372.0,455.4 1374.0,454.3 C1376.0,453.2 1378.0,452.1 1380.0,451.0 C1382.0,449.9 1384.0,448.8 1386.0,447.7 C1388.0,446.6 1390.0,445.5 1392.0,444.4 C1394.0,443.3 1396.0,442.2 1398.0,441.2 C1400.0,440.1 1402.0,439.0 1404.0,437.9 C1406.0,436.9 1408.0,435.8 1410.0,434.7 C1412.0,433.7 1414.0,432.6 1416.0,431.5 C1418.0,430.5 1420.0,429.4 1422.0,428.3 C1424.0,427.3 1426.0,426.2 1428.0,425.2 C1430.0,424.1 1432.0,423.1 1434.0,422.0 C1436.0,421.0 1438.0,420.0 1440.0,418.9 C1442.0,417.9 1444.0,416.8 1446.0,415.8 C1448.0,414.8 1450.0,413.7 1452.0,412.7 C1454.0,411.7 1456.0,410.7 1458.0,409.6 C1460.0,408.6 1462.0,407.6 1464.0,406.6 C1466.0,405.6 1468.0,404.5 1470.0,403.5 C1472.0,402.5 1474.0,401.5 1476.0,400.5 C1478.0,399.5 1480.0,398.5 1482.0,397.5 C1484.0,396.5 1486.0,395.5 1488.0,394.5 C1490.0,393.5 1492.0,392.5 1494.0,391.5 C1496.0,390.5 1498.0,389.5 1500.0,388.5 C1502.0,387.5 1504.0,386.5 1506.0,385.6 C1508.0,384.6 1510.0,383.6 1512.0,382.6 C1514.0,381.6 1516.0,380.7 1518.0,379.7 C1520.0,378.7 1522.0,377.7 1524.0,376.8 C1526.0,375.8 1528.0,374.8 1530.0,373.9 C1532.0,372.9 1534.0,371.9 1536.0,371.0 C1538.0,370.0 1540.0,369.0 1542.0,368.1 C1544.0,367.1 1546.0,366.2 1548.0,365.2 C1550.0,364.3 1552.0,363.3 1554.0,362.3 C1556.0,361.4 1558.0,360.4 1560.0,359.5 C1562.0,358.6 1564.0,357.6 1566.0,356.7 C1568.0,355.7 1570.0,354.8 1572.0,353.8 C1574.0,352.9 1576.0,352.0 1578.0,351.0 C1580.0,350.1 1582.0,349.2 1584.0,348.2 C1586.0,347.3 1588.0,346.4 1590.0,345.4 C1592.0,344.5 1594.0,343.6 1596.0,342.6 C1598.0,341.7 1600.0,340.8 1602.0,339.9 C1604.0,338.9 1606.0,338.0 1608.0,337.1 C1610.0,336.2 1612.0,335.3 1614.0,334.3 C1616.0,333.4 1618.0,332.5 1620.0,331.6 C1622.0,330.7 1624.0,329.8 1626.0,328.8 C1628.0,327.9 1630.0,327.0 1632.0,326.1 C1634.0,325.2 1636.0,324.3 1638.0,323.4 C1640.0,322.5 1642.0,321.6 1644.0,320.7 C1646.0,319.8 1648.0,318.9 1650.0,318.0 C1652.0,317.1 1654.0,316.2 1656.0,315.3 C1658.0,314.4 1660.0,313.5 1662.0,312.6 C1664.0,311.7 1666.0,310.8 1668.0,309.9 C1670.0,309.0 1672.0,308.1 1674.0,307.2 C1676.0,306.3 1678.0,305.4 1680.0,304.5 C1682.0,303.6 1684.0,302.7 1686.0,301.8 C1688.0,300.9 1690.0,300.0 1692.0,299.2 C1694.0,298.3 1696.0,297.4 1698.0,296.5 C1700.0,295.6 1702.0,294.7 1704.0,293.8 C1706.0,292.9 1708.0,292.1 1710.0,291.2 C1712.0,290.3 1714.0,289.4 1716.0,288.5 C1718.0,287.6 1720.0,286.8 1722.0,285.9 C1724.0,285.0 1726.0,284.1 1728.0,283.2 C1730.0,282.4 1732.0,281.5 1734.0,280.6 C1736.0,279.7 1738.0,278.8 1740.0,278.0 C1742.0,277.1 1744.0,276.2 1746.0,275.3 C1748.0,274.4 1750.0,273.6 1752.0,272.7 C1754.0,271.8 1756.0,270.9 1758.0,270.1 C1760.0,269.2 1762.0,268.3 1764.0,267.4 C1766.0,266.5 1768.0,265.7 1770.0,264.8 C1772.0,263.9 1774.0,263.0 1776.0,262.2 C1778.0,261.3 1780.3,260.3 1782.0,259.5 C1783.2,259.0 1784.5,258.4 1785.0,258.2" fill="none" stroke="#00ff00" stroke-width="10.0" stroke-linejoin="round" stroke-linecap="butt"/>
<path d="M354.4,755.1 C354.5,755.1 354.7,755.2 355.0,755.1 C356.0,754.8 359.0,752.9 361.0,751.8 C363.0,750.7 365.0,749.7 367.0,748.6 C369.0,747.5 371.0,746.4 373.0,745.3 C375.0,744.2 377.0,743.1 379.0,742.0 C381.0,740.9 383.0,739.8 385.0,738.7 C387.0,737.6 389.0,736.5 391.0,735.4 C393.0,734.3 395.0,733.2 397.0,732.1 C399.0,731.0 401.0,730.0 403.0,728.9 C405.0,727.8 407.0,726.7 409.0,725.6 C411.0,724.5 413.0,723.5 415.0,722.4 C417.0,721.3 419.0,720.3 421.0,719.2 C423.0,718.2 425.0,717.1 427.0,716.1 C429.0,715.0 431.0,714.0 433.0,712.9 C435.0,711.9 437.0,710.9 439.0,709.9 C441.0,708.8 443.0,707.8 445.0,706.8 C447.0,705.8 449.0,704.8 451.0,703.9 C453.0,702.9 455.0,701.9 457.0,700.9 C459.0,700.0 461.0,699.0 463.0,698.1 C465.0,697.1 467.0,696.2 469.0,695.3 C471.0,694.4 473.0,693.5 475.0,692.6 C477.0,691.7 479.0,690.8 481.0,690.0 C483.0,689.1 485.0,688.3 487.0,687.4 C489.0,686.6 491.0,685.8 493.0,684.9 C495.0,684.1 497.0,683.3 499.0,682.5 C501.0,681.7 503.0,681.0 505.0,680.2 C507.0,679.4 509.0,678.6 511.0,677.9 C513.0,677.1 515.0,676.3 517.0,675.6 C519.0,674.8 521.0,674.1 523.0,673.3 C525.0,672.6 527.0,671.8 529.0,671.1 C531.0,670.3 533.0,669.6 535.0,668.8 C537.0,668.1 539.0,667.3 541.0,666.6 C543.0,665.8 545.0,665.1 547.0,664.3 C549.0,663.6 551.0,662.8 553.0,662.0 C555.0,661.2 557.0,660.4 559.0,659.7 C561.0,658.9 563.0,658.1 565.0,657.2 C567.0,656.4 569.0,655.6 571.0,654.8 C573.0,654.0 575.0,653.1 577.0,652.3 C579.0,651.5 581.0,650.6 583.0,649.8 C585.0,649.0 587.0,648.1 589.0,647.3 C591.0,646.4 593.0,645.6 595.0,644.7 C597.0,643.9 599.0,643.0 601.0,642.2 C603.0,641.3 605.0,640.5 607.0,639.7 C609.0,638.8 611.0,638.0 613.0,637.1 C615.0,636.3 617.0,635.5 619.0,634.7 C621.0,633.8 623.0,633.0 625.0,632.2 C627.0,631.4 629.0,630.6 631.0,629.8 C633.0,629.0 635.0,628.3 637.0,627.5 C639.0,626.7 641.0,625.9 643.0,625.2 C645.0,624.4 647.0,623.7 649.0,623.0 C651.0,622.2 653.0,621.5 655.0,620.8 C657.0,620.0 659.0,619.3 661.0,618.6 C663.0,617.9 665.0,617.2 667.0,616.5 C669.0,615.8 671.0,615.1 673.0,614.5 C675.0,613.8 677.0,613.1 679.0,612.4 C681.0,611.8 683.0,611.1 685.0,610.5 C687.0,609.8 689.0,609.2 691.0,608.5 C693.0,607.9 695.0,607.2 697.0,606.6 C699.0,606.0 701.0,605.3 703.0,604.7 C705.0,604.1 707.0,603.5 709.0,602.9 C711.0,602.3 713.0,601.7 715.0,601.0 C717.0,600.4 719.0,599.8 721.0,599.2 C723.0,598.6 725.0,598.1 727.0,597.5 C729.0,596.9 731.0,596.3 733.0,595.7 C735.0,595.1 737.0,594.5 739.0,594.0 C741.0,593.4 743.0,592.8 745.0,592.2 C747.0,591.7 749.0,591.1 751.0,590.5 C753.0,589.9 755.0,589.4 757.0,588.8 C759.0,588.2 761.0,587.7 763.0,587.1 C765.0,586.6 767.0,586.0 769.0,585.4 C771.0,584.9 773.0,584.3 775.0,583.8 C777.0,583.2 779.0,582.6 781.0,582.1 C783.0,581.5 785.0,580.9 787.0,580.4 C789.0,579.8 791.0,579.3 793.0,578.7 C795.0,578.1 797.0,577.6 799.0,577.0 C801.0,576.5 803.0,575.9 805.0,575.3 C807.0,574.8 809.0,574.2 811.0,573.6 C813.0,573.1 815.0,572.5 817.0,571.9 C819.0,571.3 821.0,570.8 823.0,570.2 C825.0,569.6 827.0,569.1 829.0,568.5 C831.0,567.9 833.0,567.4 835.0,566.8 C837.0,566.2 839.0,565.7 841.0,565.1 C843.0,564.5 845.0,564.0 847.0,563.4 C849.0,562.8 851.0,562.3 853.0,561.7 C855.0,561.1 857.0,560.6 859.0,560.0 C861.0,559.5 863.0,558.9 865.0,558.4 C867.0,557.8 869.0,557.3 871.0,556.7 C873.0,556.2 875.0,555.6 877.0,555.1 C879.0,554.5 881.0,554.0 883.0,553.5 C885.0,552.9 887.0,552.4 889.0,551.9 C891.0,551.3 893.0,550.8 895.0,550.3 C897.0,549.8 899.0,549.3 901.0,548.7 C903.0,548.2 905.0,547.7 907.0,547.2 C909.0,546.7 911.0,546.2 913.0,545.7 C915.0,545.2 917.0,544.8 919.0,544.3 C921.0,543.8 923.0,543.3 925.0,542.8 C927.0,542.4 929.0,541.9 931.0,541.4 C933.0,541.0 935.0,540.5 937.0,540.1 C939.0,539.6 941.0,539.2 943.0,538.7 C945.0,538.3 947.0,537.8 949.0,537.4 C951.0,536.9 953.0,536.5 955.0,536.1 C957.0,535.6 959.0,535.2 961.0,534.8 C963.0,534.3 965.0,533.9 967.0,533.5 C969.0,533.1 971.0,532.7 973.0,532.2 C975.0,531.8 977.0,531.4 979.0,531.0 C981.0,530.6 983.0,530.2 985.0,529.8 C987.0,529.4 989.0,529.0 991.0,528.6 C993.0,528.2 995.0,527.8 997.0,527.4 C999.0,527.0 1001.0,526.6 1003.0,526.2 C1005.0,525.8 1007.0,525.4 1009.0,525.0 C1011.0,524.6 1013.0,524.2 1015.0,523.8 C1017.0,523.5 1019.0,523.1 1021.0,522.7 C1023.0,522.3 1025.0,521.9 1027.0,521.5 C1029.0,521.1 1031.0,520.8 1033.0,520.4 C1035.0,520.0 1037.0,519.6 1039.0,519.2 C1041.0,518.9 1043.0,518.5 1045.0,518.1 C1047.0,517.7 1049.0,517.3 1051.0,517.0 C1053.0,516.6 1055.0,516.2 1057.0,515.8 C1059.0,515.4 1061.0,515.1 1063.0,514.7 C1065.0,514.3 1067.0,513.9 1069.0,513.5 C1071.0,513.1 1073.0,512.8 1075.0,512.4 C1077.0,512.0 1079.0,511.6 1081.0,511.2 C1083.0,510.8 1085.0,510.4 1087.0,510.1 C1089.0,509.7 1091.0,509.3 1093.0,508.9 C1095.0,508.5 1097.0,508.1 1099.0,507.7 C1101.0,507.3 1103.0,506.9 1105.0,506.5 C1107.0,506.1 1109.0,505.7 1111.0,505.3 C1113.0,504.9 1115.0,504.5 1117.0,504.1 C1119.0,503.7 1121.0,503.3 1123.0,502.9 C1125.0,502.5 1127.0,502.1 1129.0,501.6 C1131.0,501.2 1133.0,500.8 1135.0,500.4 C1137.0,500.0 1139.0,499.5 1141.0,499.1 C1143.0,498.7 1145.0,498.3 1147.0,497.8 C1149.0,497.4 1151.0,497.0 1153.0,496.5 C1155.0,496.1 1157.0,495.6 1159.0,495.2 C1161.0,494.8 1163.0,494.3 1165.0,493.9 C1167.0,493.4 1169.0,493.0 1171.0,492.5 C1173.0,492.1 1175.0,491.6 1177.0,491.2 C1179.0,490.7 1181.0,490.3 1183.0,489.8 C1185.0,489.3 1187.0,488.9 1189.0,488.4 C1191.0,487.9 1193.0,487.5 1195.0,487.0 C1197.0,486.5 1199.0,486.1 1201.0,485.6 C1203.0,485.1 1205.0,484.7 1207.0,484.2 C1209.0,483.7 1211.0,483.2 1213.0,482.7 C1215.0,482.3 1217.0,481.8 1219.0,481.3 C1221.0,480.8 1223.0,480.3 1225.0,479.8 C1227.0,479.3 1229.0,478.9 1231.0,478.4 C1233.0,477.9 1235.0,477.4 1237.0,476.9 C1239.0,476.4 1241.0,475.9 1243.0,475.4 C1245.0,474.9 1247.0,474.4 1249.0,473.9 C1251.0,473.4 1253.0,472.9 1255.0,472.4 C1257.0,471.9 1259.0,471.3 1261.0,470.8 C1263.0,470.3 1265.0,469.8 1267.0,469.3 C1269.0,468.8 1271.0,468.3 1273.0,467.8 C1275.0,467.2 1277.0,466.7 1279.0,466.2 C1281.0,465.7 1283.0,465.2 1285.0,464.6 C1287.0,464.1 1289.0,463.6 1291.0,463.1 C1293.0,462.5 1295.0,462.0 1297.0,461.5 C1299.0,461.0 1301.0,460.4 1303.0,459.9 C1305.0,459.4 1307.0,458.8 1309.0,458.3 C1311.0,457.8 1313.0,457.2 1315.0,456.7 C1317.0,456.2 1319.0,455.6 1321.0,455.1 C1323.0,454.6 1325.0,454.0 1327.0,453.5 C1329.0,452.9 1331.0,452.4 1333.0,451.8 C1335.0,451.3 1337.0,450.8 1339.0,450.2 C1341.0,449.7 1343.0,449.1 1345.0,448.6 C1347.0,448.0 1349.0,447.5 1351.0,446.9 C1353.0,446.4 1355.0,445.8 1357.0,445.3 C1359.0,444.7 1361.0,444.2 1363.0,443.6 C1365.0,443.1 1367.0,442.5 1369.0,441.9 C1371.0,441.4 1373.0,440.8 1375.0,440.3 C1377.0,439.7 1379.0,439.2 1381.0,438.6 C1383.0,438.0 1385.0,437.5 1387.0,436.9 C1389.0,436.4 1391.0,435.8 1393.0,435.2 C1395.0,434.7 1397.0,434.1 1399.0,433.5 C1401.0,433.0 1403.0,432.4 1405.0,431.9 C1407.0,431.3 1409.0,430.7 1411.0,430.2 C1413.0,429.6 1415.0,429.0 1417.0,428.4 C1419.0,427.9 1421.0,427.3 1423.0,426.7 C1425.0,426.2 1427.0,425.6 1429.0,425.0 C1431.0,424.5 1433.0,423.9 1435.0,423.3 C1437.0,422.7 1439.0,422.2 1441.0,421.6 C1443.0,421.0 1445.0,420.4 1447.0,419.9 C1449.0,419.3 1451.0,418.7 1453.0,418.1 C1455.0,417.6 1457.0,417.0 1459.0,416.4 C1461.0,415.8 1463.0,415.3 1465.0,414.7 C1467.0,414.1 1469.0,413.5 1471.0,413.0 C1473.0,412.4 1475.0,411.8 1477.0,411.2 C1479.0,410.6 1481.0,410.1 1483.0,409.5 C1485.0,408.9 1487.0,408.3 1489.0,407.7 C1491.0,407.2 1493.0,406.6 1495.0,406.0 C1497.0,405.4 1499.0,404.8 1501.0,404.3 C1503.0,403.7 1505.0,403.1 1507.0,402.5 C1509.0,401.9 1511.0,401.3 1513.0,400.8 C1515.0,400.2 1517.0,399.6 1519.0,399.0 C1521.0,398.4 1523.0,397.9 1525.0,397.3 C1527.0,396.7 1529.0,396.1 1531.0,395.5 C1533.0,394.9 1535.0,394.4 1537.0,393.8 C1539.0,393.2 1541.0,392.6 1543.0,392.0 C1545.0,391.4 1547.0,390.9 1549.0,390.3 C1551.0,389.7 1553.0,389.1 1555.0,388.5 C1557.0,388.0 1559.0,387.4 1561.0,386.8 C1563.0,386.2 1565.0,385.6 1567.0,385.0 C1569.0,384.5 1571.0,383.9 1573.0,383.3 C1575.0,382.7 1577.0,382.1 1579.0,381.6 C1581.0,381.0 1583.0,380.4 1585.0,379.8 C1587.0,379.2 1589.0,378.7 1591.0,378.1 C1593.0,377.5 1595.0,376.9 1597.0,376.3 C1599.0,375.8 1601.0,375.2 1603.0,374.6 C1605.0,374.0 1607.0,373.4 1609.0,372.9 C1611.0,372.3 1613.0,371.7 1615.0,371.1 C1617.0,370.6 1619.0,370.0 1621.0,369.4 C1623.0,368.8 1625.0,368.2 1627.0,367.7 C1629.0,367.1 1631.0,366.5 1633.0,365.9 C1635.0,365.4 1637.0,364.8 1639.0,364.2 C1641.0,363.7 1643.0,363.1 1645.0,362.5 C1647.0,361.9 1649.0,361.4 1651.0,360.8 C1653.0,360.2 1655.0,359.7 1657.0,359.1 C1659.0,358.5 1661.0,357.9 1663.0,357.4 C1665.0,356.8 1667.0,356.2 1669.0,355.7 C1671.0,355.1 1673.0,354.5 1675.0,354.0 C1677.0,353.4 1679.0,352.8 1681.0,352.3 C1683.0,351.7 1685.0,351.2 1687.0,350.6 C1689.0,350.0 1691.0,349.5 1693.0,348.9 C1695.0,348.3 1697.0,347.8 1699.0,347.2 C1701.0,346.7 1703.0,346.1 1705.0,345.6 C1707.0,345.0 1709.0,344.4 1711.0,343.9 C1713.0,343.3 1715.0,342.8 1717.0,342.2 C1719.0,341.7 1721.0,341.1 1723.0,340.6 C1725.0,340.0 1727.0,339.5 1729.0,338.9 C1731.0,338.4 1733.0,337.8 1735.0,337.3 C1737.0,336.7 1739.0,336.2 1741.0,335.6 C1743.0,335.1 1745.0,334.5 1747.0,334.0 C1749.0,333.5 1751.0,332.9 1753.0,332.4 C1755.0,331.8 1757.0,331.3 1759.0,330.8 C1761.0,330.2 1763.0,329.7 1765.0,329.2 C1767.0,328.6 1769.0,328.1 1771.0,327.5 C1773.0,327.0 1775.0,326.5 1777.0,326.0 C1779.0,325.4 1781.5,324.8 1783.0,324.4 C1783.8,324.1 1784.7,323.9 1785.0,323.8" fill="none" stroke="#00ffff" stroke-width="10.0" stroke-linejoin="round" stroke-linecap="butt"/>
<path d="M354.4,905.3 C354.5,905.3 354.7,905.4 355.0,905.3 C356.0,905.2 359.0,904.5 361.0,904.1 C363.0,903.7 365.0,903.3 367.0,902.9 C369.0,902.4 371.0,902.0 373.0,901.6 C375.0,901.2 377.0,900.8 379.0,900.3 C381.0,899.9 383.0,899.5 385.0,899.0 C387.0,898.6 389.0,898.2 391.0,897.8 C393.0,897.3 395.0,896.9 397.0,896.4 C399.0,896.0 401.0,895.6 403.0,895.1 C405.0,894.7 407.0,894.2 409.0,893.8 C411.0,893.4 413.0,892.9 415.0,892.5 C417.0,892.0 419.0,891.6 421.0,891.1 C423.0,890.7 425.0,890.2 427.0,889.8 C429.0,889.3 431.0,888.9 433.0,888.4 C435.0,888.0 437.0,887.5 439.0,887.1 C441.0,886.6 443.0,886.2 445.0,885.7 C447.0,885.3 449.0,884.8 451.0,884.4 C453.0,883.9 455.0,883.5 457.0,883.0 C459.0,882.6 461.0,882.1 463.0,881.6 C465.0,881.2 467.0,880.7 469.0,880.3 C471.0,879.8 473.0,879.4 475.0,878.9 C477.0,878.5 479.0,878.0 481.0,877.6 C483.0,877.1 485.0,876.7 487.0,876.2 C489.0,875.8 491.0,875.3 493.0,874.9 C495.0,874.4 497.0,874.0 499.0,873.5 C501.0,873.1 503.0,872.6 505.0,872.2 C507.0,871.8 509.0,871.3 511.0,870.9 C513.0,870.4 515.0,870.0 517.0,869.5 C519.0,869.1 521.0,868.7 523.0,868.2 C525.0,867.8 527.0,867.4 529.0,866.9 C531.0,866.5 533.0,866.1 535.0,865.7 C537.0,865.2 539.0,864.8 541.0,864.4 C543.0,864.0 545.0,863.5 547.0,863.1 C549.0,862.7 551.0,862.3 553.0,861.9 C555.0,861.5 557.0,861.0 559.0,860.6 C561.0,860.2 563.0,859.8 565.0,859.4 C567.0,859.0 569.0,858.6 571.0,858.2 C573.0,857.8 575.0,857.4 577.0,857.0 C579.0,856.6 581.0,856.2 583.0,855.9 C585.0,855.5 587.0,855.1 589.0,854.7 C591.0,854.3 593.0,853.9 595.0,853.6 C597.0,853.2 599.0,852.8 601.0,852.4 C603.0,852.1 605.0,851.7 607.0,851.3 C609.0,850.9 611.0,850.6 613.0,850.2 C615.0,849.8 617.0,849.4 619.0,849.0 C621.0,848.7 623.0,848.3 625.0,847.9 C627.0,847.5 629.0,847.2 631.0,846.8 C633.0,846.4 635.0,846.0 637.0,845.6 C639.0,845.2 641.0,844.8 643.0,844.4 C645.0,844.0 647.0,843.6 649.0,843.2 C651.0,842.8 653.0,842.4 655.0,842.0 C657.0,841.6 659.0,841.2 661.0,840.8 C663.0,840.4 665.0,840.0 667.0,839.5 C669.0,839.1 671.0,838.7 673.0,838.2 C675.0,837.8 677.0,837.3 679.0,836.9 C681.0,836.4 683.0,836.0 685.0,835.5 C687.0,835.0 689.0,834.6 691.0,834.1 C693.0,833.6 695.0,833.1 697.0,832.6 C699.0,832.1 701.0,831.6 703.0,831.1 C705.0,830.6 707.0,830.1 709.0,829.6 C711.0,829.0 713.0,828.5 715.0,827.9 C717.0,827.4 719.0,826.8 721.0,826.3 C723.0,825.7 725.0,825.1 727.0,824.5 C729.0,824.0 731.0,823.4 733.0,822.8 C735.0,822.2 737.0,821.6 739.0,820.9 C741.0,820.3 743.0,819.7 745.0,819.1 C747.0,818.4 749.0,817.8 751.0,817.1 C753.0,816.5 755.0,815.8 757.0,815.2 C759.0,814.5 761.0,813.9 763.0,813.2 C765.0,812.5 767.0,811.8 769.0,811.2 C771.0,810.5 773.0,809.8 775.0,809.1 C777.0,808.4 779.0,807.7 781.0,807.0 C783.0,806.3 785.0,805.6 787.0,804.9 C789.0,804.2 791.0,803.5 793.0,802.7 C795.0,802.0 797.0,801.3 799.0,800.6 C801.0,799.9 803.0,799.1 805.0,798.4 C807.0,797.7 809.0,796.9 811.0,796.2 C813.0,795.5 815.0,794.7 817.0,794.0 C819.0,793.3 821.0,792.5 823.0,791.8 C825.0,791.0 827.0,790.3 829.0,789.5 C831.0,788.8 833.0,788.0 835.0,787.3 C837.0,786.5 839.0,785.7 841.0,785.0 C843.0,784.2 845.0,783.4 847.0,782.7 C849.0,781.9 851.0,781.1 853.0,780.4 C855.0,779.6 857.0,778.8 859.0,778.0 C861.0,777.2 863.0,776.5 865.0,775.7 C867.0,774.9 869.0,774.1 871.0,773.3 C873.0,772.5 875.0,771.7 877.0,770.9 C879.0,770.1 881.0,769.3 883.0,768.5 C885.0,767.7 887.0,766.9 889.0,766.1 C891.0,765.3 893.0,764.5 895.0,763.7 C897.0,762.8 899.0,762.0 901.0,761.2 C903.0,760.4 905.0,759.6 907.0,758.7 C909.0,757.9 911.0,757.1 913.0,756.3 C915.0,755.4 917.0,754.6 919.0,753.8 C921.0,752.9 923.0,752.1 925.0,751.3 C927.0,750.4 929.0,749.6 931.0,748.7 C933.0,747.9 935.0,747.0 937.0,746.2 C939.0,745.3 941.0,744.5 943.0,743.6 C945.0,742.8 947.0,741.9 949.0,741.1 C951.0,740.2 953.0,739.3 955.0,738.5 C957.0,737.6 959.0,736.7 961.0,735.9 C963.0,735.0 965.0,734.1 967.0,733.3 C969.0,732.4 971.0,731.5 973.0,730.6 C975.0,729.8 977.0,728.9 979.0,728.0 C981.0,727.1 983.0,726.2 985.0,725.3 C987.0,724.4 989.0,723.6 991.0,722.7 C993.0,721.8 995.0,720.9 997.0,720.0 C999.0,719.1 1001.0,718.2 1003.0,717.3 C1005.0,716.4 1007.0,715.5 1009.0,714.6 C1011.0,713.7 1013.0,712.8 1015.0,711.8 C1017.0,710.9 1019.0,710.0 1021.0,709.1 C1023.0,708.2 1025.0,707.3 1027.0,706.4 C1029.0,705.5 1031.0,704.5 1033.0,703.6 C1035.0,702.7 1037.0,701.8 1039.0,700.9 C1041.0,699.9 1043.0,699.0 1045.0,698.1 C1047.0,697.2 1049.0,696.3 1051.0,695.4 C1053.0,694.4 1055.0,693.5 1057.0,692.6 C1059.0,691.7 1061.0,690.8 1063.0,689.9 C1065.0,688.9 1067.0,688.0 1069.0,687.1 C1071.0,686.2 1073.0,685.3 1075.0,684.4 C1077.0,683.5 1079.0,682.6 1081.0,681.7 C1083.0,680.8 1085.0,679.9 1087.0,679.0 C1089.0,678.1 1091.0,677.2 1093.0,676.3 C1095.0,675.5 1097.0,674.6 1099.0,673.7 C1101.0,672.8 1103.0,672.0 1105.0,671.1 C1107.0,670.2 1109.0,669.3 1111.0,668.5 C1113.0,667.6 1115.0,666.8 1117.0,665.9 C1119.0,665.1 1121.0,664.2 1123.0,663.4 C1125.0,662.6 1127.0,661.7 1129.0,660.9 C1131.0,660.1 1133.0,659.3 1135.0,658.5 C1137.0,657.7 1139.0,656.9 1141.0,656.1 C1143.0,655.3 1145.0,654.5 1147.0,653.7 C1149.0,652.9 1151.0,652.1 1153.0,651.4 C1155.0,650.6 1157.0,649.9 1159.0,649.1 C1161.0,648.4 1163.0,647.6 1165.0,646.9 C1167.0,646.2 1169.0,645.4 1171.0,644.7 C1173.0,644.0 1175.0,643.3 1177.0,642.6 C1179.0,641.9 1181.0,641.3 1183.0,640.6 C1185.0,639.9 1187.0,639.3 1189.0,638.6 C1191.0,638.0 1194.1,637.0 1195.0,636.7 C1195.3,636.6 1195.2,636.7 1195.5,636.5 C1200.0,634.8 1287.6,593.6 1301.2,588.0 C1304.4,586.7 1305.2,586.6 1307.2,585.8 C1309.2,585.1 1311.2,584.4 1313.2,583.7 C1315.2,583.0 1317.2,582.2 1319.2,581.5 C1321.2,580.8 1323.2,580.1 1325.2,579.3 C1327.2,578.6 1329.2,577.9 1331.2,577.2 C1333.2,576.4 1335.2,575.7 1337.2,575.0 C1339.2,574.3 1341.2,573.5 1343.2,572.8 C1345.2,572.1 1347.2,571.4 1349.2,570.6 C1351.2,569.9 1353.2,569.2 1355.2,568.5 C1357.2,567.7 1359.2,567.0 1361.2,566.3 C1363.2,565.6 1365.2,564.8 1367.2,564.1 C1369.2,563.4 1371.2,562.7 1373.2,561.9 C1375.2,561.2 1377.2,560.5 1379.2,559.8 C1381.2,559.0 1383.2,558.3 1385.2,557.6 C1387.2,556.9 1389.2,556.1 1391.2,555.4 C1393.2,554.7 1395.2,554.0 1397.2,553.2 C1399.2,552.5 1401.2,551.8 1403.2,551.1 C1405.2,550.3 1407.2,549.6 1409.2,548.9 C1411.2,548.2 1413.2,547.4 1415.2,546.7 C1417.2,546.0 1419.2,545.3 1421.2,544.5 C1423.2,543.8 1425.2,543.1 1427.2,542.4 C1429.2,541.6 1431.2,540.9 1433.2,540.2 C1435.2,539.5 1437.2,538.7 1439.2,538.0 C1441.2,537.3 1443.2,536.6 1445.2,535.8 C1447.2,535.1 1449.2,534.4 1451.2,533.7 C1453.2,532.9 1455.2,532.2 1457.2,531.5 C1459.2,530.8 1461.2,530.0 1463.2,529.3 C1465.2,528.6 1467.2,527.9 1469.2,527.1 C1471.2,526.4 1473.2,525.7 1475.2,525.0 C1477.2,524.3 1479.2,523.5 1481.2,522.8 C1483.2,522.1 1485.2,521.4 1487.2,520.6 C1489.2,519.9 1491.2,519.2 1493.2,518.5 C1495.2,517.8 1497.2,517.0 1499.2,516.3 C1501.2,515.6 1503.2,514.9 1505.2,514.2 C1507.2,513.4 1509.2,512.7 1511.2,512.0 C1513.2,511.3 1515.2,510.6 1517.2,509.9 C1519.2,509.1 1521.2,508.4 1523.2,507.7 C1525.2,507.0 1527.2,506.3 1529.2,505.6 C1531.2,504.8 1533.2,504.1 1535.2,503.4 C1537.2,502.7 1539.2,502.0 1541.2,501.3 C1543.2,500.5 1545.2,499.8 1547.2,499.1 C1549.2,498.4 1551.2,497.7 1553.2,497.0 C1555.2,496.3 1557.2,495.6 1559.2,494.8 C1561.2,494.1 1563.2,493.4 1565.2,492.7 C1567.2,492.0 1569.2,491.3 1571.2,490.6 C1573.2,489.9 1575.2,489.2 1577.2,488.5 C1579.2,487.7 1581.2,487.0 1583.2,486.3 C1585.2,485.6 1587.2,484.9 1589.2,484.2 C1591.2,483.5 1593.2,482.8 1595.2,482.1 C1597.2,481.4 1599.2,480.7 1601.2,480.0 C1603.2,479.3 1605.2,478.6 1607.2,477.9 C1609.2,477.2 1611.2,476.5 1613.2,475.8 C1615.2,475.1 1617.2,474.4 1619.2,473.7 C1621.2,473.0 1623.2,472.3 1625.2,471.6 C1627.2,470.9 1629.2,470.2 1631.2,469.5 C1633.2,468.8 1635.2,468.1 1637.2,467.4 C1639.2,466.7 1641.2,466.0 1643.2,465.3 C1645.2,464.6 1647.2,463.9 1649.2,463.2 C1651.2,462.5 1653.2,461.8 1655.2,461.1 C1657.2,460.5 1659.2,459.8 1661.2,459.1 C1663.2,458.4 1665.2,457.7 1667.2,457.0 C1669.2,456.3 1671.2,455.6 1673.2,455.0 C1675.2,454.3 1677.2,453.6 1679.2,452.9 C1681.2,452.2 1683.2,451.5 1685.2,450.8 C1687.2,450.2 1689.2,449.5 1691.2,448.8 C1693.2,448.1 1695.2,447.4 1697.2,446.8 C1699.2,446.1 1701.2,445.4 1703.2,444.7 C1705.2,444.0 1707.2,443.4 1709.2,442.7 C1711.2,442.0 1713.2,441.3 1715.2,440.7 C1717.2,440.0 1719.2,439.3 1721.2,438.7 C1723.2,438.0 1725.2,437.3 1727.2,436.6 C1729.2,436.0 1731.2,435.3 1733.2,434.6 C1735.2,434.0 1737.2,433.3 1739.2,432.6 C1741.2,432.0 1743.2,431.3 1745.2,430.6 C1747.2,430.0 1749.2,429.3 1751.2,428.7 C1753.2,428.0 1755.2,427.3 1757.2,426.7 C1759.2,426.0 1761.2,425.4 1763.2,424.7 C1765.2,424.0 1767.2,423.4 1769.2,422.7 C1771.2,422.1 1773.2,421.4 1775.2,420.8 C1777.2,420.1 1779.4,419.4 1781.2,418.8 C1782.6,418.4 1784.4,417.8 1785.0,417.6" fill="none" stroke="#00ffff" stroke-width="10.0" stroke-linejoin="round" stroke-linecap="butt"/>
<text transform="translate(293,1045.8) scale(0.965,1)" font-size="76" text-anchor="end">200</text>
<text transform="translate(293,856.6) scale(0.965,1)" font-size="76" text-anchor="end">400</text>
<text transform="translate(293,667.4) scale(0.965,1)" font-size="76" text-anchor="end">600</text>
<text transform="translate(293,478.1) scale(0.965,1)" font-size="76" text-anchor="end">800</text>
<text transform="translate(293,288.9) scale(0.965,1)" font-size="76" text-anchor="end">1000</text>
<text transform="translate(293,98.8) scale(0.965,1)" font-size="76" text-anchor="end">1200</text>
<text transform="translate(354.4,1144.6) scale(0.965,1)" font-size="76" text-anchor="middle">0</text>
<text transform="translate(592.6,1144.6) scale(0.965,1)" font-size="76" text-anchor="middle">500</text>
<text transform="translate(830.8,1144.6) scale(0.965,1)" font-size="76" text-anchor="middle">1000</text>
<text transform="translate(1069.0,1144.6) scale(0.965,1)" font-size="76" text-anchor="middle">1500</text>
<text transform="translate(1307.2,1144.6) scale(0.965,1)" font-size="76" text-anchor="middle">2000</text>
<text transform="translate(1545.4,1144.6) scale(0.965,1)" font-size="76" text-anchor="middle">2500</text>
<text transform="translate(1783.6,1144.6) scale(0.965,1)" font-size="76" text-anchor="middle">3000</text>
<text x="900" y="1232.5" font-size="81">Depth (m)</text>
<text transform="translate(109.4,1169.5) rotate(-90)" font-size="82.75">Traction envelope on the top (kN)</text>
<rect x="1198" y="594.5" width="642" height="398" fill="#fff"/>
<line x1="1196" y1="595" x2="1842" y2="595" stroke="#777" stroke-width="5"/>
<line x1="1197.7" y1="595" x2="1197.7" y2="995" stroke="#111" stroke-width="3.4"/>
<line x1="1838" y1="595" x2="1838" y2="992" stroke="#aaa" stroke-width="2.8"/>
<line x1="1840.7" y1="595" x2="1840.7" y2="992" stroke="#333" stroke-width="2.8"/>
<line x1="1196" y1="990.5" x2="1842" y2="990.5" stroke="#8a8a8a" stroke-width="3"/>
<line x1="1196" y1="993.3" x2="1842" y2="993.3" stroke="#555" stroke-width="2.8"/>
<line x1="1230.5" y1="664.2" x2="1424" y2="664.2" stroke="#000" stroke-width="9" stroke-linecap="butt"/>
<text x="1438.5" y="690.2" font-size="80" font-style="italic">v</text>
<text x="1474.5" y="723.2" font-size="48" font-style="italic">c</text>
<text x="1512.6" y="691.2" font-size="82">= 0.1 m/s</text>
<line x1="1230.5" y1="792.2" x2="1424" y2="792.2" stroke="#00ff00" stroke-width="9" stroke-linecap="butt"/>
<text x="1438.5" y="818.2" font-size="80" font-style="italic">v</text>
<text x="1474.5" y="851.2" font-size="48" font-style="italic">c</text>
<text x="1512.6" y="819.2" font-size="82">= 0.3 m/s</text>
<line x1="1230.5" y1="920.2" x2="1424" y2="920.2" stroke="#00ffff" stroke-width="9" stroke-linecap="butt"/>
<text x="1438.5" y="946.2" font-size="80" font-style="italic">v</text>
<text x="1474.5" y="979.2" font-size="48" font-style="italic">c</text>
<text x="1512.6" y="947.2" font-size="82">= 0.7 m/s</text>
</svg></body></html>
